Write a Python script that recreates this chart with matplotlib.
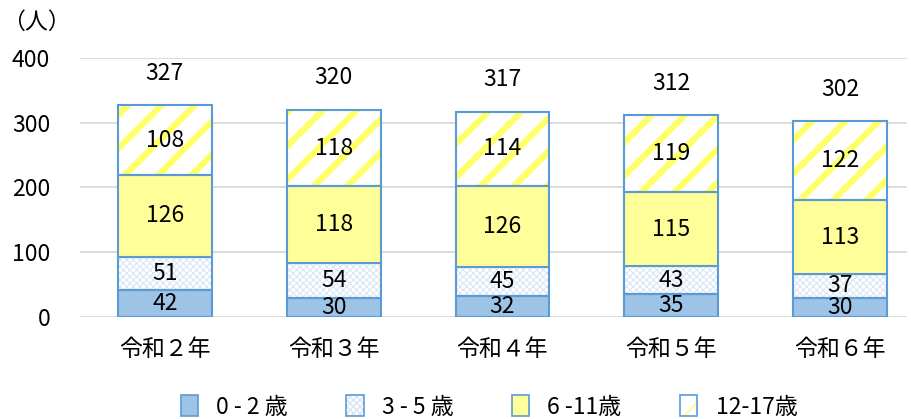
import matplotlib
matplotlib.use("Agg")
import matplotlib.pyplot as plt
import matplotlib.patches as mpatches
from matplotlib.legend_handler import HandlerTuple
import numpy as np

plt.rcParams['font.family'] = ['Noto Sans CJK JP', 'DejaVu Sans']

categories = ["令和２年", "令和３年", "令和４年", "令和５年", "令和６年"]
series_names = ["0 - 2 歳", "3 - 5 歳", "6 -11歳", "12-17歳"]
age_0_2 = [42, 30, 32, 35, 30]
age_3_5 = [51, 54, 45, 43, 37]
age_6_11 = [126, 118, 126, 115, 113]
age_12_17 = [108, 118, 114, 119, 122]
totals = [327, 320, 317, 312, 302]
y_ticks = [0, 100, 200, 300, 400]

EDGE = "#5B9BD5"
FS = 16.5
styles = [
    dict(face="#9DC3E6", hatch=None, hcolor=None, hlw=None),
    dict(face="white", hatch="xxxxx", hcolor="#D6E4F4", hlw=0.7),
    dict(face="#FFFF99", hatch=None, hcolor=None, hlw=None),
    dict(face="white", hatch="/", hcolor="#FFFF66", hlw=4.5),
]

fig = plt.figure(figsize=(9.12, 4.19), dpi=100)
ax = fig.add_axes([80 / 912, 102 / 419, 827 / 912, 259 / 419])

x = np.arange(len(categories))
width = 0.556
series = [age_0_2, age_3_5, age_6_11, age_12_17]
bottom = np.zeros(len(categories))


def make_bar(vals, bottom, st):
    if st["hatch"]:
        with plt.rc_context({'hatch.linewidth': st["hlw"]}):
            hb = ax.bar(x, vals, width, bottom=bottom, color=st["face"],
                        edgecolor=st["hcolor"], hatch=st["hatch"], linewidth=0, zorder=2)
            for p in hb:
                if hasattr(p, "set_hatch_linewidth"):
                    p.set_hatch_linewidth(st["hlw"])
        ax.bar(x, vals, width, bottom=bottom, fill=False, edgecolor=EDGE,
               linewidth=1.5, zorder=3)
    else:
        ax.bar(x, vals, width, bottom=bottom, color=st["face"], edgecolor=EDGE,
               linewidth=1.5, zorder=3)


for vals, st in zip(series, styles):
    make_bar(vals, bottom, st)
    for xi, b, v in zip(x, bottom, vals):
        ax.text(xi, b + v / 2, str(v), ha="center", va="center",
                fontsize=FS, color="black", zorder=5)
    bottom = bottom + np.array(vals)

for xi, t in zip(x, totals):
    ax.annotate(str(t), (xi, t), xytext=(0, 23), textcoords="offset points",
                ha="center", va="center", fontsize=FS)

ax.set_ylim(0, 400)
ax.set_xlim(-0.503, 4.397)
ax.set_yticks(y_ticks)
ax.set_yticklabels([str(v) for v in y_ticks], fontsize=FS)
ax.set_xticks(x)
ax.set_xticklabels(categories, fontsize=FS)
ax.tick_params(axis="both", length=0)
ax.tick_params(axis="y", pad=21.5)
ax.tick_params(axis="x", pad=15)
ax.yaxis.grid(True, color="#D9D9D9", linewidth=1.3, zorder=0)
ax.set_axisbelow(True)
for s in ax.spines.values():
    s.set_visible(False)

fig.text(36 / 912, 1 - 22 / 419, "（人）", ha="center", va="center", fontsize=FS)

# legend
handles = []
for st, name in zip(styles, series_names):
    if st["hatch"]:
        with plt.rc_context({'hatch.linewidth': st["hlw"]}):
            h1 = mpatches.Patch(facecolor=st["face"], edgecolor=st["hcolor"], hatch=st["hatch"],
                                linewidth=0)
            if hasattr(h1, "set_hatch_linewidth"):
                h1.set_hatch_linewidth(st["hlw"] * 0.8)
        h2 = mpatches.Patch(fill=False, edgecolor=EDGE, linewidth=1.2)
        handles.append((h1, h2))
    else:
        handles.append(mpatches.Patch(facecolor=st["face"], edgecolor=EDGE, linewidth=1.2))

leg = fig.legend(handles=handles, labels=series_names, loc="center",
                 bbox_to_anchor=(489 / 912, 1 - 407 / 419),
                 handler_map={tuple: HandlerTuple(ndivide=1, pad=0)},
                 ncol=4, frameon=False, fontsize=FS, handlelength=0.75, handleheight=1.0,
                 handletextpad=0.8, columnspacing=2.55)

fig.savefig("out.png", dpi=100)
